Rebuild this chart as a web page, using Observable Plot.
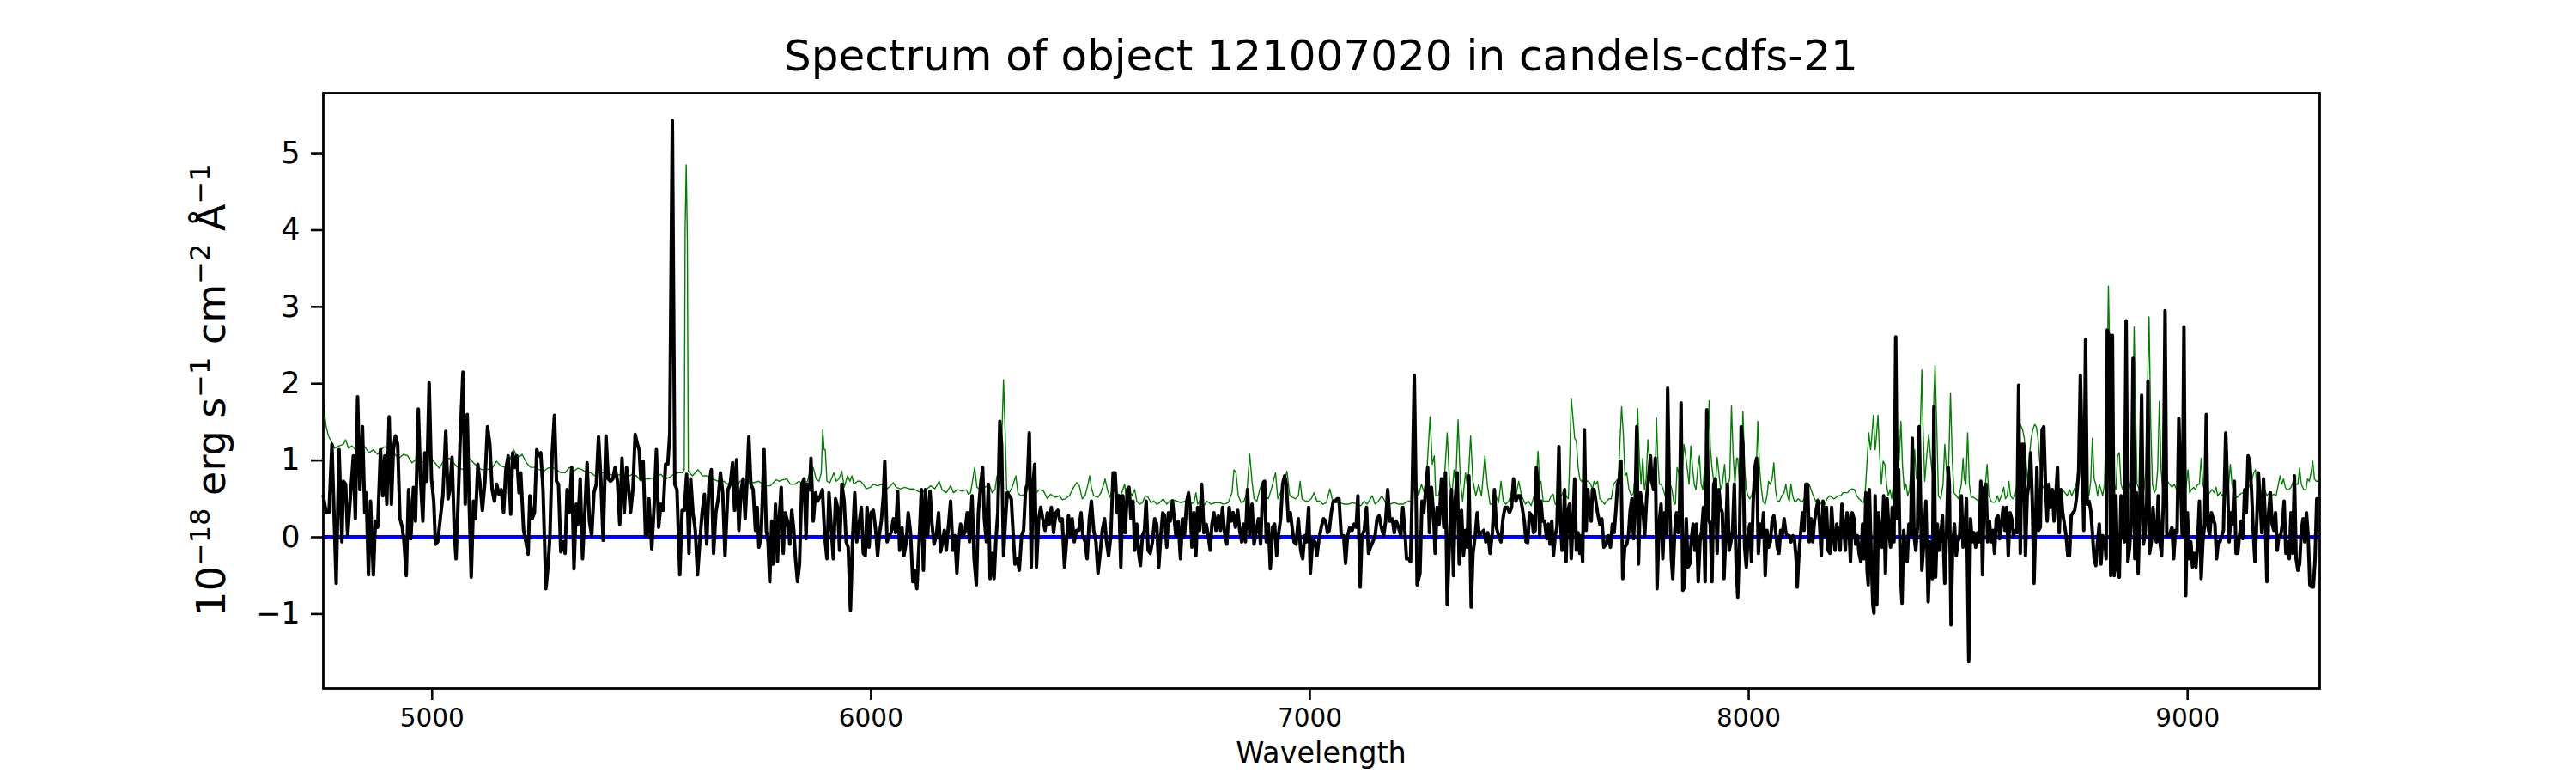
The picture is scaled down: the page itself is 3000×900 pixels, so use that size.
<!DOCTYPE html>
<html><head><meta charset="utf-8">
<script src="https://cdn.jsdelivr.net/npm/d3@7"></script>
<script src="https://cdn.jsdelivr.net/npm/@observablehq/plot@0.6"></script>
<style>body{margin:0;background:#fff} svg{display:block}</style>
</head><body><div id="chart"></div>
<script>
const titleText = "Spectrum of object 121007020 in candels-cdfs-21";
const xLabelText = "Wavelength";
const xTicks = [5000, 6000, 7000, 8000, 9000];
const yTicks = [-1, 0, 1, 2, 3, 4, 5];
const xDomain = [4752, 9301];
const yDomain = [-1.969, 5.784];
const zeroLevel = [0];

// observed flux (black): [wavelength, flux]
const spectrum = [
[4752,0.54],[4758.5,0.32],[4765,0.32],[4771.6,1.21],[4781.3,-0.60],[4787.9,1.14],[4794.4,-0.06],[4797.6,0.73],[4802.9,0.69],[4807.4,0.02],
[4813.9,0.54],[4820.5,1.06],[4825,0.24],[4830.2,1.83],[4835.5,0.62],[4841.3,1.44],[4846.5,0.32],[4849.8,0.58],[4855,-0.49],[4859.6,0.47],
[4866.1,-0.49],[4870.7,0.21],[4875.9,0.13],[4882.4,1.14],[4887.6,0.54],[4892.2,1.06],[4896.7,0.43],[4902,1.57],[4907.2,0.43],[4911.7,1.14],
[4916.3,1.32],[4921.5,1.21],[4926.7,0.24],[4932,0.13],[4935.9,-0.06],[4941.1,-0.50],[4946.3,0.62],[4951.5,-0.02],[4957.4,0.65],[4962,0.21],
[4968.5,1.67],[4973.7,0.73],[4978.9,0.21],[4983.5,1.10],[4988,0.73],[4993.2,2.01],[4998.5,0.76],[5003.7,0.47],[5007.6,-0.09],[5012.8,-0.06],
[5019.3,0.28],[5024.5,0.54],[5031.1,1.38],[5036.3,0.50],[5040.2,0.62],[5045.4,1.04],[5050.6,0.06],[5054.5,-0.28],[5058.4,0.32],[5063.7,1.23],
[5070.2,2.15],[5075.4,0.43],[5080,1.60],[5084.5,0.43],[5089.1,-0.52],[5094.3,0.47],[5098.9,0.24],[5104.1,0.95],[5109.3,0.69],[5114.5,0.35],
[5120.4,0.73],[5126.2,1.44],[5131.5,1.21],[5136.7,0.62],[5141.9,0.47],[5147.1,0.69],[5152.3,0.56],[5157.5,0.62],[5162.8,0.32],[5168,0.88],
[5173.2,1.06],[5179.1,0.30],[5183.6,1.10],[5188.8,0.91],[5192.8,1.06],[5198,0.58],[5201.9,0.84],[5208.4,0.09],[5213.6,-0.06],[5218.8,-0.22],
[5222.7,0.54],[5228,0.24],[5233.2,0.32],[5238.4,1.14],[5242.3,1.06],[5247.5,1.10],[5252.7,0.62],[5259.3,-0.67],[5264.5,-0.35],[5268.4,0.02],
[5273.6,1.10],[5278.8,1.59],[5283.4,0.73],[5288,0.69],[5293.2,-0.19],[5298.4,-0.06],[5303,-0.21],[5307.5,0.62],[5312.7,0.32],[5318,0.91],
[5323.2,-0.41],[5328.4,0.43],[5332.3,0.17],[5337.5,0.76],[5342.7,-0.28],[5348,0.32],[5353.1,0.97],[5358.4,0.21],[5363.6,0.02],[5368.8,0.58],
[5374,0.69],[5379.2,1.31],[5384.4,0.76],[5389.7,-0.04],[5396.2,1.32],[5401.4,0.76],[5406.6,0.73],[5411.8,0.76],[5417,0.91],[5422.3,0.73],
[5427.5,0.17],[5432.7,1.03],[5437.9,0.32],[5443.1,0.91],[5447,0.69],[5452.2,0.32],[5457.5,0.62],[5462.7,1.34],[5467.9,1.21],[5471.8,1.14],
[5475.7,0.76],[5480.9,0.99],[5486.2,0.02],[5490.1,0.02],[5494,0.50],[5500.5,-0.15],[5505.7,0.39],[5511,1.14],[5516.1,0.13],[5521.4,0.43],
[5526.6,0.35],[5531.8,0.95],[5537,0.95],[5541.5,1.35],[5547.4,5.43],[5553,0.69],[5557.9,0.62],[5564.4,-0.49],[5569.6,0.35],[5574.8,0.35],
[5580,0.82],[5585.3,-0.21],[5589.2,0.76],[5594.4,0.32],[5599.6,0.09],[5604.8,-0.49],[5610,-0.06],[5615.2,0.32],[5620.5,0.56],[5625.7,-0.09],
[5630.9,0.69],[5636.1,0.88],[5641.3,-0.21],[5646.5,0.32],[5651.8,0.50],[5657,0.84],[5662.2,0.58],[5667.4,-0.24],
[5674.1,0.62],[5679.4,0.69],[5684.6,0.97],[5689.1,0.35],[5693.7,1.01],[5698.9,0.09],[5704.1,0.62],[5708.7,0.76],[5713.3,0.24],[5717.2,0.69],
[5721.7,1.31],[5726.3,0.69],[5731.5,0.62],[5736.7,0.09],[5740.6,0.39],[5744.6,-0.13],[5749.8,0.02],[5756.3,1.14],[5761.5,0.09],[5765.4,-0.06],
[5769.3,-0.58],[5773.9,0.21],[5777.2,-0.35],[5782.4,0.43],[5786.9,-0.32],[5790.2,0.17],[5795.4,0.65],[5800,-0.21],[5804.5,0.32],[5809.8,0.21],
[5815,-0.09],[5819.5,0.35],[5824.1,0.09],[5828,-0.28],[5832.6,-0.58],[5837.1,-0.35],[5842.4,0.69],[5847.6,0.76],[5852.1,-0.02],[5855.4,0.69],
[5860.6,0.62],[5863.2,1.03],[5868.4,0.21],[5873.7,0.58],[5878.2,0.47],[5884.7,0.54],[5889.3,0.62],[5894.5,0.02],[5899.7,-0.28],[5904.3,0.58],
[5908.9,0.17],[5914.1,-0.28],[5919.3,0.50],[5923.9,0.39],[5928.4,-0.17],[5933.6,0.69],[5938.9,0.47],[5943.4,-0.06],[5948,-0.13],[5953.2,-0.95],
[5958.4,0.02],[5963,0.58],[5967.5,-0.06],[5972.8,0.17],[5978,0.39],[5982.5,-0.21],[5987.1,-0.24],[5991,0.39],[5995.6,-0.13],[6000.1,0.32],
[6005.4,0.35],[6010.6,0.09],[6015.1,-0.24],[6019.7,0.06],[6023.6,0.21],[6028.2,0.54],[6031.4,0.99],[6036.7,-0.06],[6041.2,0.02],[6045.8,0.06],
[6051,0.24],[6056.2,0.06],[6060.8,0.60],[6065.3,-0.17],[6070.6,0.13],[6075.1,-0.24],[6080.3,-0.06],[6084.9,0.32],[6090.1,0.06],[6095.3,-0.58],
[6099.9,-0.43],[6104.5,-0.67],[6109.7,-0.06],[6114.9,0.62],[6119.5,-0.43],[6124,0.62],[6129.2,0.02],[6134.5,0.60],[6139,0.17],[6143.6,-0.09],
[6148.8,0.02],[6154,0.32],[6158.6,-0.19],[6163.1,-0.06],[6167.1,0.09],[6171.6,-0.17],[6176.2,0.13],[6181.4,0.47],[6186.6,-0.17],[6191.2,0.02],
[6195.7,-0.47],[6199.7,-0.06],[6204.2,0.17],[6208.8,0.02],[6214,0.06],[6219.2,0.32],[6224.4,-0.06],[6230.3,0.54],[6234.9,-0.28],[6240.1,-0.62],
[6244.6,0.32],[6249.9,0.69],[6254.4,0.91],[6258.3,0.24],[6262.9,-0.06],[6267.5,0.69],[6271.4,-0.54],[6276,-0.21],[6280.5,-0.54],[6284.4,-0.06],
[6289,0.32],[6293.5,1.51],[6297.5,1.21],[6302,-0.24],[6306.6,0.24],[6310.5,0.58],[6315.1,0.54],[6319.6,0.50],[6323.5,0.09],[6328.1,-0.35],
[6332.7,-0.28],[6337.9,-0.43],[6343.1,0.02],[6347.7,0.09],[6352.2,0.62],[6356.1,0.69],[6360.7,1.36],[6365.3,-0.39],[6369.2,0.69],[6373.1,0.95],
[6377,-0.39],[6382.2,0.24],[6386.8,0.39],[6391.3,0.24],[6396.6,0.09],[6401.8,0.32],[6406.3,0.17],[6410.9,0.39],[6416.1,0.06],[6421.3,0.32],
[6425.9,0.35],[6430.5,0.21],[6435.7,0.24],[6440.9,-0.39],[6445.5,-0.06],[6450,0.28],[6453.9,0.02],[6458.5,0.24],[6463.1,-0.06],[6468.3,0.09],
[6473.5,0.09],[6478.7,0.32],[6482.6,0.02],[6487.8,-0.06],[6492.4,-0.28],[6497.6,0.24],[6502.2,0.47],[6507.4,0.09],[6512.6,-0.06],[6517.2,-0.47],
[6521.7,-0.24],[6527,0.09],[6532.2,0.24],[6536.7,-0.06],[6541.3,-0.24],[6546.5,0.02],[6551.7,0.84],[6556.3,0.84],[6560.9,0.32],[6564.8,0.54],
[6569.3,-0.39],[6573.9,0.54],
[6579.4,0.06],[6583.9,0.62],[6587.9,0.65],[6592.4,0.24],[6597,0.47],[6600.9,-0.17],[6605.5,0.17],[6610,-0.21],[6613.9,-0.37],[6618.5,0.02],
[6623.1,0.09],[6627,0.47],[6631.5,-0.17],[6636.1,-0.21],[6641.3,-0.06],[6646.5,0.24],[6651.1,0.17],[6655.7,-0.39],[6660.9,0.06],[6664.8,0.32],
[6668.7,0.28],[6673.9,-0.13],[6677.8,0.32],[6681.7,0.21],[6687,0.47],[6690.9,0.24],[6694.8,0.02],[6700,0.21],[6705.2,-0.28],[6709.8,0.24],
[6714.3,0.02],[6719.6,0.47],[6723.5,0.58],[6727.4,0.39],[6731.3,-0.13],[6735.9,0.32],[6740.4,-0.24],[6744.3,0.39],[6748.9,0.09],[6753.5,0.69],
[6758.7,0.06],[6763.9,0.17],[6768.5,0.02],[6773,-0.17],[6776.9,0.17],[6781.5,0.32],[6786.1,0.09],[6791.3,0.28],[6796.5,0.09],[6801.1,0.39],
[6805.6,0.06],[6810.8,-0.09],[6816.1,0.39],[6820.6,0.21],[6825.2,0.32],[6830.4,0.13],[6835.6,0.35],[6840.2,0.09],[6844.7,-0.06],[6848.7,0.17],
[6853.2,-0.06],[6857.8,0.62],[6863,0.02],[6868.2,0.43],[6872.8,-0.09],[6877.3,0.06],[6882.6,0.24],[6887.8,-0.09],[6893,0.69],[6896.9,0.73],
[6900.8,-0.06],[6905.4,0.17],[6909.9,-0.41],[6915.2,0.13],[6919.7,0.17],[6924.3,-0.24],[6928.2,0.02],[6933.4,0.24],[6938,0.69],[6942.5,0.80],
[6946.5,0.69],[6951,0.21],[6955.6,0.32],[6959.5,0.13],[6964.1,-0.06],[6968.6,-0.09],[6973.8,0.24],[6979.1,-0.17],[6983.6,-0.28],[6988.2,0.02],
[6992.1,-0.06],[6997.3,0.39],[7001.2,-0.47],[7006.4,-0.02],[7011.7,-0.06],[7016.2,-0.24],[7020.8,-0.02],[7026,0.13],[7031.2,0.24],[7035.8,0.21],
[7040.3,0.06],[7044.3,0.09],[7048.8,0.32],[7053.4,0.47],[7057.3,0.47],[7061.9,0.50],[7066.4,0.50],[7071.6,0.02],[7076.9,0.02],[7081.4,-0.34],
[7086,0.02],[7091.2,0.13],[7096.4,0.09],[7101,0.17],[7105.5,0.13],[7109.5,0.54],[7114.7,-0.65],[7118.6,0.02],[7123.8,0.09],[7129,0.39],
[7133.6,-0.21],[7138.1,-0.13],[7143.4,-0.06],[7148.6,0.02],[7153.1,0.24],[7157.7,0.28],[7162.9,0.13],[7168.1,0.02],[7172.7,0.21],[7177.3,0.62],
[7182.5,0.21],[7187.7,0.24],[7192.3,0.06],[7196.8,0.21],[7202,0.13],[7207.3,0.02],[7211.8,0.39],[7216.4,0.09],[7220.3,-0.28],[7224.9,-0.28],
[7229.4,-0.32],[7233.3,0.62],[7237.9,2.11],[7242.5,0.32],[7244.4,-0.62],[7250.9,-0.47],[7255.5,0.47],[7259.4,0.32],[7264,0.62],[7268.5,0.91],
[7272.5,0.06],[7277,0.65],[7281.6,0.32],[7285.5,-0.21],[7290.1,0.39],[7294.6,0.17],[7299.8,0.76],[7305.1,0.13],[7309,0.84],[7312.9,-0.88],
[7318.1,-0.06],[7322.7,0.62],[7327.2,-0.50],[7331.1,0.47],[7335.7,0.84],[7340.3,-0.35],[7345.5,0.35],[7350,-0.24],[7354.6,0.09],[7358.5,-0.13],
[7362.4,0.80],[7367.6,-0.91],[7371.6,-0.21],[7376.8,0.02],[7381.3,0.32],[7385.9,0.02],[7391.1,0.06],[7396.3,0.09],[7400.9,-0.06],[7405.5,0.06],
[7410.7,-0.21],[7415.9,0.06],[7420.5,0.62],[7425,0.13],[7430.2,0.02],[7435.5,-0.06],[7440,0.24],[7444.6,0.39],[7449.8,0.39],[7455,0.32],
[7459.6,0.39],[7464.1,0.76],[7469.4,0.47],[7474.6,0.54],[7479.1,0.54],[7483.7,0.39],
[7488.6,0.21],[7492.5,-0.06],[7496.5,-0.07],[7500.4,0.32],[7505.6,0.28],[7509.5,0.06],[7513.4,0.09],[7516,0.91],[7519.9,0.69],[7523.8,0.02],
[7526.4,0.47],[7530.4,0.21],[7534.9,0.21],[7539.5,-0.02],[7543.4,0.17],[7547.3,-0.09],[7551.2,0.21],[7555.1,-0.24],[7559,0.02],[7563,0.13],
[7567.5,1.18],[7570.8,0.24],[7574.7,-0.17],[7577.3,0.13],[7580.6,0.62],[7583.8,-0.32],[7587.1,0.32],[7591.6,0.43],[7595.6,-0.28],[7599.5,0.21],
[7603.4,0.76],[7607.3,-0.17],[7611.2,0.06],[7615.1,-0.21],[7617.7,0.02],[7621.6,-0.32],[7625.5,1.40],[7629.5,0.09],[7633.4,0.62],[7637.3,0.32],
[7641.2,0.21],[7643.8,0.62],[7647.7,0.62],[7651.6,0.47],[7655.5,0.32],[7660.8,0.17],[7665.3,0.24],[7669.9,-0.13],[7675.1,-0.09],[7680.3,0.02],
[7684.9,-0.13],[7689.4,0.17],[7693.4,0.06],[7697.3,0.35],[7701.2,0.69],[7705.1,0.76],[7709,0.99],[7712.9,-0.54],[7717.5,-0.13],[7722,-0.09],
[7726,0.02],[7729.9,0.35],[7733.8,0.50],[7737.7,-0.02],[7741.6,0.54],[7744.9,1.44],[7748.8,-0.35],[7753.3,0.58],[7758.6,0.39],[7763.1,0.02],
[7767.7,0.54],[7771.6,0.76],[7776.2,1.06],[7779.4,0.73],[7783.3,0.62],[7787.2,1.03],[7791.2,-0.67],[7795.7,0.17],[7800.3,0.43],[7804.2,-0.28],
[7808.1,0.32],[7812,0.02],[7815.3,1.94],[7819.8,0.47],[7823.8,-0.28],[7827,-0.54],[7831.6,0.09],[7835.5,0.32],[7839.4,0.06],[7842,0.21],
[7845.9,1.75],[7849.8,-0.69],[7853.7,-0.65],[7857.7,0.24],[7861.6,-0.39],[7865.5,-0.35],[7869.4,-0.02],[7873.3,0.17],[7877.2,-0.17],[7881.1,0.17],
[7885,-0.58],[7889,-0.06],[7892.9,0.09],[7896.8,0.39],[7900.7,-0.58],[7904.6,1.66],[7908.5,0.24],[7912.4,0.17],[7916.3,-0.58],[7920.3,0.69],
[7924.2,0.76],[7928.1,-0.21],[7932,0.62],[7935.9,0.39],[7939.8,0.32],[7943.7,-0.54],[7947.6,0.02],[7951.5,0.69],[7955.5,-0.17],[7959.4,-0.06],
[7963.3,0.09],[7967.2,0.69],[7971.1,-0.32],[7975,-0.78],[7978.9,-0.06],[7982.8,1.44],[7986.8,1.21],[7990.7,-0.13],[7994.6,-0.39],[7998.5,0.02],
[8002.4,0.17],[8006.3,-0.32],[8010.2,0.47],[8014.1,0.91],[8018.1,1.03],[8022,-0.21],[8025.9,0.17],[8029.8,0.02],[8033.7,0.32],[8037.6,-0.50],
[8041.5,0.09],[8045.4,-0.13],[8049.3,-0.06],[8053.3,0.21],[8057.2,0.28],[8061.1,0.09],[8065,-0.13],[8068.9,-0.21],[8072.8,0.09],[8076.7,0.02],
[8080.6,0.24],[8084.6,0.06],[8088.5,0.02],[8092.4,0.02],[8096.3,-0.06],[8100.2,0.02],[8104.1,-0.02],[8108,-0.28],[8110.6,-0.65],[8114.5,-0.21],
[8118.5,0.06],[8122.4,0.32],[8126.3,0.09],[8130.2,0.69],[8134.1,0.69],[8138,-0.06],[8141.9,0.24],[8145.8,-0.06],[8149.8,0.21],[8153.7,0.35],
[8157.6,0.47],[8161.5,0.17],[8165.4,-0.24],[8169.3,0.47],[8173.2,0.02],[8177.1,0.39],[8181.1,-0.17],[8185,-0.21],[8188.9,0.39],[8192.8,0.02],
[8196.7,-0.17],[8200.6,0.17],[8204.5,0.06],[8208.4,-0.17],[8212.3,0.43],[8216.3,0.17],[8220.2,-0.17],[8224.1,0.32],[8228,0.17],[8231.9,-0.32],
[8235.8,0.32],[8239.7,0.24],[8243.6,-0.09],[8247.6,0.02],[8251.5,-0.21],[8255.4,-0.32],[8259.3,0.17],[8263.2,-0.28],[8267.1,0.58],[8269.7,-0.43],
[8272.3,-0.62],[8274.9,0.62],[8278.9,-0.21],[8282.8,-0.88],[8285.4,-0.99],[8288,0.54],[8291.9,-0.88],[8295.8,0.32],[8299.7,0.02],[8303.6,-0.13],
[8307.5,0.54],[8311.5,-0.47],[8315.4,0.50],[8319.3,0.09],[8323.2,-0.13],[8327.1,0.39],[8331,-0.06],[8334.9,2.61],[8338.8,0.24],[8341.5,0.88],
[8345.4,-0.43],[8349.3,-0.86],[8353.2,0.09],[8357.1,-0.21],[8361,-0.32],[8364.9,0.17],[8368.8,0.02],[8372.7,1.29],[8376.7,0.02],[8380.6,-0.17],
[8384.5,0.13],[8388.4,1.44],
[8394.5,-0.43],[8399.1,-0.06],[8403.6,0.47],[8408.9,-0.84],[8414.1,-0.06],[8418.6,-0.54],[8421.9,1.70],[8425.8,-0.52],[8429.7,0.17],[8433.6,-0.17],
[8437.5,0.02],[8441.5,0.28],[8446.7,-0.60],[8450.6,0.02],[8454.5,0.91],[8457.1,0.69],[8461,-1.14],[8464.9,-0.06],[8468.8,0.17],[8472.8,-0.24],
[8476.7,-0.06],[8480.6,0.02],[8484.5,0.54],[8488.4,-0.13],[8492.3,0.06],[8496.2,0.50],[8501.4,-1.62],[8505.4,0.24],[8509.3,-0.06],[8513.2,0.06],
[8517.1,-0.13],[8521,0.06],[8524.9,-0.06],[8528.8,0.73],[8532.7,-0.49],[8536.7,0.65],[8540.6,0.69],[8544.5,-0.06],[8548.4,0.21],[8552.3,-0.06],
[8556.2,0.09],[8560.1,-0.21],[8564,0.24],[8568,0.28],[8571.9,-0.02],[8575.8,0.17],[8579.7,0.39],[8583.6,0.09],[8587.5,0.39],[8591.4,-0.24],
[8595.3,0.32],[8599.2,0.24],[8603.2,0.02],[8607.1,0.09],[8611,0.06],[8614.9,1.98],[8618.8,-0.21],[8622.7,1.21],[8626.6,1.21],[8630.5,-0.24],
[8634.5,0.54],[8638.4,0.69],[8642.3,1.10],[8646.2,0.47],[8650.1,-0.60],[8654,0.24],[8656.6,0.91],[8660.5,0.09],[8664.4,0.13],[8668.4,1.40],
[8672.3,1.44],[8676.2,0.69],[8680.1,0.21],[8684,0.69],[8687.9,0.39],[8691.8,0.62],[8695.7,0.21],[8699.7,0.54],[8703.6,0.91],[8707.5,0.06],
[8711.4,0.62],[8715.3,0.32],[8719.2,0.17],[8723.1,0.02],[8727,-0.24],[8731,-0.24],[8734.9,0.28],[8738.8,0.32],[8742.7,0.35],[8746.6,0.50],
[8751.8,0.84],[8755.7,2.11],[8759.6,1.14],[8763.5,0.09],[8767.5,2.57],[8771.4,0.43],[8775.3,0.47],[8779.2,0.35],[8783.1,0.06],[8787,-0.28],
[8790.9,-0.37],[8794.8,-0.06],[8798.8,0.17],[8802.7,-0.35],[8806.6,0.02],[8811.8,-0.06],[8814.4,-0.28],[8817,2.70],[8820.9,2.63],[8824.8,-0.50],
[8828.7,2.63],[8832.7,-0.50],[8836.6,0.54],[8840.5,-0.43],[8844.4,-0.52],[8848.3,0.54],[8852.2,0.06],[8856.1,-0.06],[8860,2.82],[8864,-0.32],
[8867.9,-0.13],[8871.8,0.21],[8875.7,2.33],[8879.6,-0.28],[8883.5,0.58],[8887.4,-0.47],[8891.3,0.39],[8895.3,1.85],[8899.2,-0.09],[8903.1,0.02],
[8907,0.47],[8909.6,2.03],[8913.5,-0.21],[8917.4,-0.06],[8921.3,0.39],[8925.2,0.02],[8929.2,-0.06],[8933.1,0.54],[8937,-0.06],[8940.9,-0.24],
[8944.8,0.47],[8948.7,2.95],[8952.6,0.02],[8956.5,0.02],[8960.5,0.06],[8964.4,0.13],[8968.3,-0.28],[8972.2,0.09],[8976.1,0.06],[8980,1.55],
[8983.9,0.76],[8987.8,0.02],[8991.7,2.74],[8995.7,-0.76],[8999.6,0.32],[9003.5,-0.28],[9007.4,-0.06],[9011.3,-0.39],[9015.2,-0.21],[9019.1,-0.39],
[9023,-0.06],[9027,0.47],[9030.9,-0.54],[9034.8,-0.06],[9038.7,0.17],[9042.6,1.60],[9046.5,0.13],[9050.4,0.02],[9054.3,0.32],[9058.3,0.24],
[9062.2,0.17],[9066.1,-0.28],[9070,-0.06],[9073.9,-0.06],[9077.8,0.02],[9081.7,0.09],[9086.9,1.36],[9090.9,0.69],[9094.8,-0.06],[9098.7,0.32],
[9102.6,0.17],[9106.5,0.73],[9110.4,-0.21],[9114.3,-0.21],[9118.2,0.02],[9122.2,0.21],[9126.1,-0.02],[9130,0.62],[9133.9,0.32],[9137.8,1.06],
[9141.7,0.99],[9145.6,0.62],[9149.5,0.09],[9153.5,-0.32],[9157.4,0.17],[9161.3,0.84],[9165.2,0.47],[9169.1,0.06],[9173,0.76],[9176.9,0.24],
[9180.8,-0.58],[9184.7,0.32],[9188.7,0.58],[9192.6,0.17],[9196.5,0.09],[9200.4,0.32],[9204.3,-0.17],[9208.2,0.02],[9212.1,0.02],[9216,0.17],
[9220,0.47],[9223.9,-0.21],[9227.8,-0.06],[9231.7,-0.28],[9235.6,0.32],[9239.5,-0.21],[9243.4,0.80],[9247.3,-0.28],[9251.3,-0.43],[9255.2,-0.35],
[9259.1,0.09],[9263,0.24],[9266.9,-0.06],[9270.8,0.32],[9274.7,0.02],[9278.6,-0.62],[9282.6,-0.65],[9286.5,-0.65],[9290.4,-0.28],[9294.3,0.50],
[9298.2,0.50]
];

// noise / sky spectrum (green): [wavelength, value]
const noise = [
[4752,1.75],[4758.5,1.44],[4763.7,1.32],[4771.6,1.23],[4778.1,1.16],[4787.9,1.19],[4797.6,1.21],[4802.9,1.27],[4809.4,1.16],[4817.2,1.19],
[4825,1.14],[4833.5,1.18],[4846.5,1.18],[4856.3,1.10],[4866.1,1.14],[4875.9,1.08],[4882.4,1.14],[4892.2,1.18],[4902,1.14],[4911.7,1.10],
[4918.3,1.06],[4924.8,1.03],[4934.6,1.08],[4944.3,1.06],[4954.1,0.97],[4967.2,1.03],[4976.9,0.99],[4986.7,0.95],[4996.5,1.03],[5006.3,0.97],
[5016.1,0.90],[5025.8,0.99],[5038.9,1.03],[5048.7,0.97],[5058.4,0.91],[5071.5,0.88],[5084.5,1.03],[5094.3,0.97],[5104.1,0.91],[5113.9,0.88],
[5123.6,0.88],[5136.7,0.90],[5146.5,0.99],[5156.2,0.93],[5166,0.91],[5175.8,0.99],[5185.6,1.14],[5195.4,1.03],[5205.1,1.08],[5214.9,0.97],
[5224.7,0.91],[5234.5,0.91],[5244.3,0.88],[5254,0.86],[5263.8,0.90],[5273.6,0.91],[5283.4,0.88],[5293.2,0.84],[5302.9,0.84],[5312.7,0.91],
[5322.5,0.86],[5332.3,0.90],[5342.1,0.88],[5351.8,0.84],[5361.6,0.84],[5371.4,0.80],[5381.2,0.84],[5391,0.84],[5404,0.82],[5417,0.80],
[5430.1,0.82],[5443.1,0.78],[5456.2,0.82],[5465.9,0.80],[5475.7,0.73],[5485.5,0.76],[5495.3,0.76],[5508.3,0.78],[5521.4,0.82],[5531.1,0.76],
[5540.9,0.78],[5550.7,0.82],[5560.5,0.84],[5570.3,0.84],[5574.5,0.88],[5576.5,4.0],[5579,4.85],[5581.5,3.9],[5583.8,0.86],[5593.1,0.80],
[5606.1,0.88],[5615.9,0.80],[5625.7,0.80],[5638.5,0.76],[5651.8,0.73],[5664.8,0.73],
[5672.8,0.69],[5682.6,0.73],[5692.4,0.65],[5702.2,0.73],[5708.7,0.76],[5718.5,0.73],[5731.5,0.71],[5744.6,0.73],[5757.6,0.67],[5770.6,0.67],
[5783.7,0.75],[5790.2,0.73],[5800,0.75],[5808.5,0.76],[5816.3,0.69],[5826.1,0.69],[5835.8,0.73],[5845.6,0.69],[5855.4,0.73],[5861.9,0.88],
[5868.4,0.91],[5875,0.76],[5881.5,0.73],[5886.7,0.84],[5890,1.40],[5893.2,1.14],[5895.8,1.14],[5899.7,0.73],[5906.3,0.71],[5915.4,0.84],
[5920.6,0.73],[5927.1,0.76],[5933.6,0.86],[5938.9,0.65],[5946.7,0.80],[5951.9,0.73],[5956.5,0.80],[5961,0.69],[5969.5,0.73],[5976,0.73],
[5982.5,0.69],[5989.1,0.63],[5998.8,0.65],[6005.4,0.69],[6015.1,0.67],[6024.9,0.69],[6034.7,0.62],[6044.5,0.67],[6051,0.71],[6057.5,0.65],
[6067.3,0.63],[6077.1,0.65],[6086.9,0.63],[6096.6,0.63],[6106.4,0.60],[6116.2,0.58],[6126,0.62],[6135.8,0.67],[6145.5,0.63],[6155.3,0.73],
[6161.8,0.62],[6171.6,0.58],[6181.4,0.67],[6187.9,0.58],[6197.7,0.62],[6207.5,0.60],[6217.3,0.62],[6221.8,0.56],[6227,0.58],[6236.2,0.91],
[6241.4,0.65],[6249.9,0.62],[6259.6,0.65],[6269.4,0.69],[6276,0.58],[6282.5,0.62],[6287,0.80],[6291,0.58],[6295.5,0.76],[6298.8,1.44],
[6302,2.05],[6305.3,1.44],[6309.2,0.62],[6315.1,0.58],[6321.6,0.65],[6326.1,0.73],[6330.1,0.80],[6334.6,0.58],[6341.1,0.54],[6350.9,0.56],
[6357.4,0.62],[6364,0.69],[6370.5,0.63],[6377,0.58],[6383.5,0.62],[6393.3,0.60],[6401.8,0.50],[6409.6,0.56],[6419.4,0.52],[6429.2,0.54],
[6435.7,0.49],[6442.2,0.50],[6452,0.54],[6461.8,0.65],[6468.3,0.71],[6474.8,0.67],[6481.3,0.50],[6487.8,0.54],[6494.4,0.69],[6498.3,0.80],
[6502.2,0.65],[6507.4,0.54],[6517.2,0.52],[6523.7,0.58],[6530.2,0.69],[6533.5,0.76],[6538.7,0.62],[6543.9,0.52],[6549.8,0.62],[6556.3,0.60],
[6562.8,0.56],[6569.3,0.54],[6577.8,0.69],
[6581.3,0.54],[6587.9,0.63],[6594.4,0.54],[6600.9,0.62],[6605.5,0.47],[6612,0.43],[6618.5,0.45],[6625,0.54],[6631.5,0.52],[6638.1,0.45],
[6644.6,0.47],[6651.1,0.43],[6657.6,0.45],[6666.1,0.50],[6673.9,0.43],[6680.4,0.47],[6687,0.49],[6696.7,0.47],[6706.5,0.45],[6716.3,0.47],
[6726.1,0.43],[6735.9,0.45],[6740.4,0.58],[6744.3,0.43],[6752.2,0.50],[6758.7,0.41],[6765.2,0.47],[6775,0.43],[6784.8,0.45],[6794.5,0.45],
[6804.3,0.43],[6814.1,0.45],[6822.6,0.58],[6827.1,0.88],[6831.7,0.84],[6836.9,0.54],[6843.4,0.45],[6850,0.47],[6856.5,0.58],[6863,1.08],
[6868.2,0.73],[6872.8,0.50],[6879.3,0.47],[6885.8,0.62],[6892.3,0.73],[6898.9,0.54],[6905.4,0.50],[6911.9,0.62],[6921.7,0.84],[6926.9,0.50],
[6933.4,0.58],[6939.9,0.69],[6947.8,0.86],[6954.3,0.54],[6960.8,0.52],[6967.3,0.50],[6973.8,0.54],[6977.8,0.73],[6982.3,0.50],[6990.1,0.47],
[6996.7,0.47],[7003.2,0.50],[7009.7,0.58],[7016.2,0.47],[7022.7,0.47],[7029.3,0.43],[7037.7,0.45],[7045.6,0.63],[7050.8,0.50],[7058.6,0.45],
[7068.4,0.45],[7078.2,0.43],[7088,0.43],[7097.7,0.45],[7107.5,0.43],[7116,0.41],[7123.8,0.47],[7130.3,0.43],[7136.8,0.49],[7142.1,0.54],
[7148.6,0.43],[7156.4,0.47],[7164.2,0.54],[7172.7,0.45],[7182.5,0.43],[7192.3,0.45],[7202,0.43],[7211.8,0.43],[7218.3,0.45],[7224.9,0.47],
[7231.4,0.47],[7236,0.62],[7241.2,0.73],[7247.7,0.54],[7254.2,0.69],[7260.7,0.58],[7267.2,0.91],[7273.8,1.57],[7279,0.95],[7283.5,1.06],
[7286.8,0.54],[7293.3,0.54],[7299.8,0.76],[7305.1,0.62],[7312.9,1.36],[7318.1,0.73],[7323.3,0.54],[7328.5,0.88],[7332.4,0.69],[7337.7,1.53],
[7342.9,0.73],[7348.1,0.47],[7354.6,0.84],[7359.8,0.62],[7366.3,1.32],[7371.6,0.73],[7378.1,0.54],[7384.6,0.69],[7391.1,0.54],[7398.9,1.06],
[7404.2,0.69],[7410.7,0.43],[7417.2,0.43],[7423.7,0.54],[7430.2,0.45],[7435.5,0.73],[7440.7,0.47],[7446.5,0.43],[7453,0.47],[7457.6,0.54],
[7464.1,0.69],[7469.4,0.54],[7475.9,0.73],[7482.4,0.54],
[7491.2,0.43],[7497.8,0.47],[7504.3,0.41],[7510.8,0.54],[7515.4,0.69],[7519.9,1.12],[7523.8,0.69],[7526.4,0.73],[7531.7,0.47],[7538.2,0.47],
[7544.7,0.47],[7549.9,0.54],[7554.5,0.56],[7559,0.43],[7564.3,0.43],[7569.5,0.54],[7574,0.54],[7578.6,0.62],[7583.8,0.54],[7589,0.50],
[7591.6,0.91],[7595.6,1.81],[7599.5,1.55],[7603.4,1.29],[7607.3,1.25],[7611.2,0.91],[7615.1,0.76],[7619,0.73],[7624.2,0.76],[7629.5,0.73],
[7634.7,0.73],[7639.9,0.69],[7643.8,0.62],[7647.7,0.73],[7651.6,0.69],[7655.5,0.73],[7660.8,0.50],[7666,0.47],[7671.2,0.43],[7676.4,0.47],
[7681.6,0.50],[7686.8,0.50],[7692.1,0.69],[7697.3,0.73],[7702.5,0.76],[7706.4,1.21],[7710.3,1.70],[7714.2,1.36],[7718.1,0.80],[7722,0.84],
[7727.3,0.62],[7732.5,0.54],[7737.7,0.58],[7742.9,0.91],[7746.8,1.68],[7750.7,1.06],[7754.6,0.69],[7758.6,1.03],[7762.5,0.62],[7766.4,0.76],
[7770.3,1.27],[7774.2,0.99],[7778.1,0.69],[7783.3,0.62],[7787.2,0.91],[7789.9,1.55],[7792.5,1.06],[7796.4,0.69],[7800.3,0.69],[7805.5,0.62],
[7809.4,0.54],[7813.3,0.54],[7817.2,0.69],[7821.1,0.69],[7825.1,0.62],[7829,0.47],[7832.9,0.43],[7836.8,0.91],[7840.7,0.84],[7844.6,0.62],
[7848.5,0.84],[7852.4,1.21],[7856.4,1.06],[7860.3,0.88],[7864.2,0.69],[7868.1,1.19],[7872,0.91],[7875.9,0.69],[7879.8,0.62],[7883.7,0.88],
[7887.7,1.06],[7891.6,0.69],[7895.5,0.62],[7899.4,0.91],[7903.3,0.73],[7907.2,1.23],[7909.8,1.78],[7912.4,1.18],[7916.3,0.91],[7920.3,0.73],
[7924.2,0.69],[7928.1,1.04],[7932,0.84],[7935.9,0.62],[7939.8,0.69],[7945,0.95],[7949,0.62],[7952.9,0.69],[7956.8,0.76],[7960.7,1.71],
[7964.6,1.06],[7968.5,0.69],[7972.4,1.03],[7975,1.03],[7978.9,0.69],[7982.8,0.62],[7986.8,1.64],[7990.7,0.91],[7994.6,0.62],[7998.5,0.54],
[8002.4,0.50],[8006.3,0.54],[8010.2,0.62],[8014.1,0.58],[8018.1,1.03],[8020.7,1.51],[8024.6,0.91],[8028.5,0.65],[8032.4,0.47],[8037.6,0.43],
[8041.5,0.54],[8045.4,0.73],[8049.3,0.69],[8053.3,0.76],[8057.2,0.97],[8061.1,0.62],[8065,0.47],[8070.2,0.47],[8075.4,0.54],[8080.6,0.58],
[8084.6,0.69],[8088.5,0.54],[8092.4,0.47],[8096.3,0.69],[8100.2,0.54],[8104.1,0.47],[8108,0.47],[8113.2,0.50],[8118.5,0.47],[8123.7,0.47],
[8128.9,0.54],[8134.1,0.62],[8138,0.69],[8141.9,0.62],[8147.1,0.54],[8152.4,0.47],[8157.6,0.50],[8162.8,0.43],[8168,0.47],[8173.2,0.43],
[8178.4,0.50],[8183.7,0.54],[8188.9,0.52],[8194.1,0.50],[8199.3,0.52],[8204.5,0.54],[8209.7,0.54],[8215,0.58],[8220.2,0.58],[8225.4,0.58],
[8230.6,0.62],[8235.8,0.63],[8241.1,0.62],[8246.3,0.54],[8251.5,0.50],[8256.7,0.47],[8261.9,0.45],[8265.8,0.62],[8269.7,0.99],[8273.6,1.36],
[8277.5,1.14],[8280.2,1.29],[8284.1,1.59],[8288,1.14],[8290.6,1.29],[8294.5,1.59],[8298.4,1.06],[8302.3,0.69],[8306.2,0.99],[8310.1,0.95],
[8314.1,0.69],[8318,0.54],[8321.9,0.62],[8325.8,0.50],[8329.7,0.69],[8333.6,0.91],[8338.8,0.99],[8342.7,0.99],[8346.7,1.51],[8350.6,0.91],
[8354.5,0.62],[8358.4,0.69],[8362.3,0.54],[8366.2,0.62],[8370.1,0.91],[8374,0.69],[8378,1.14],[8381.9,0.76],[8385.8,0.91],[8389.7,1.14],
[8394.5,2.18],[8397.1,1.44],[8401,0.73],[8405.6,1.06],[8410.2,1.34],[8414.1,1.06],[8418,0.84],[8421.9,1.81],[8424.5,2.24],[8428.4,1.44],
[8432.3,0.54],[8437.5,0.50],[8442.8,0.69],[8446.7,1.21],[8450.6,0.88],[8454.5,0.69],[8459.7,1.88],[8463.6,1.06],[8467.5,0.58],[8472.8,0.54],
[8478,0.50],[8484.5,0.69],[8488.4,1.03],[8491,0.76],[8494.9,0.69],[8498.8,1.36],[8502.7,0.69],[8506.7,0.52],[8511.9,0.52],[8517.1,0.50],
[8523.6,0.47],[8530.1,0.50],[8535.3,0.62],[8539.3,0.69],[8543.2,0.95],[8547.1,0.54],[8552.3,0.47],[8557.5,0.45],[8562.7,0.47],[8566.6,0.54],
[8570.6,0.47],[8575.8,0.54],[8581,0.65],[8584.9,0.50],[8588.8,0.54],[8592.7,0.73],[8596.6,0.54],[8601.9,0.50],[8607.1,0.54],[8611,0.69],
[8614.9,0.99],[8618.8,1.47],[8624,1.40],[8627.9,1.29],[8631.8,0.99],[8635.8,0.69],[8639.7,1.06],[8643.6,1.29],[8647.5,1.40],[8651.4,1.47],
[8655.3,1.44],[8659.2,1.29],[8663.1,0.99],[8668.4,0.69],[8673.6,0.62],[8678.8,0.69],[8684,0.62],[8689.2,0.62],[8695.7,0.58],[8701,0.62],
[8706.2,0.54],[8711.4,0.52],[8715.3,0.62],[8720.5,0.58],[8725.7,0.54],[8731,0.62],[8736.2,0.54],[8741.4,0.62],[8746.6,0.69],[8751.8,0.99],
[8755.7,1.59],[8758.3,1.21],[8760.9,0.76],[8764.9,0.69],[8770.1,0.54],[8775.3,0.54],[8779.2,0.73],[8783.1,1.29],[8787,0.76],[8790.9,0.69],
[8794.8,0.54],[8798.8,0.69],[8802.7,0.62],[8806.6,0.54],[8810.5,0.69],[8814.4,1.44],[8817,2.18],[8819.6,3.27],[8822.2,2.48],[8824.8,1.44],
[8828.7,0.76],[8832.7,0.69],[8836.6,0.62],[8840.5,1.06],[8844.4,1.10],[8848.3,0.69],[8852.2,0.62],[8856.1,0.62],[8861.4,0.69],[8866.6,0.62],
[8871.8,0.76],[8875.7,1.81],[8878.3,2.74],[8880.9,1.81],[8884.8,0.69],[8890,0.62],[8895.3,0.69],[8900.5,0.62],[8904.4,0.84],[8908.3,1.81],
[8912.2,2.87],[8916.1,1.44],[8920,0.69],[8924,0.58],[8927.9,0.62],[8931.8,0.88],[8935.7,1.77],[8939.6,0.88],[8943.5,0.62],[8948.7,0.69],
[8953.9,0.73],[8959.1,0.69],[8964.4,0.65],[8969.6,0.69],[8974.8,0.62],[8980,0.73],[8985.2,0.62],[8990.4,0.58],[8995.7,0.62],[9000.9,0.88],
[9004.8,0.58],[9008.7,0.62],[9013.9,0.65],[9017.8,0.62],[9023,0.69],[9027,0.69],[9030.9,1.03],[9034.8,0.69],[9040,0.58],[9045.2,0.54],
[9050.4,0.58],[9055.6,0.62],[9060.9,0.58],[9064.8,0.65],[9068.7,0.54],[9073.9,0.58],[9079.1,0.54],[9084.3,0.58],[9089.5,0.62],[9093.5,0.69],
[9097.4,0.95],[9101.3,0.69],[9106.5,0.54],[9113,0.52],[9119.5,0.56],[9126.1,0.58],[9132.6,0.62],[9139.1,0.65],[9145.6,0.73],[9150.8,0.84],
[9154.7,0.88],[9158.7,0.62],[9163.9,0.54],[9169.1,0.54],[9175.6,0.62],[9180.8,0.54],[9186.1,0.58],[9191.3,0.54],[9196.5,0.56],[9201.7,0.54],
[9206.9,0.69],[9210.8,0.80],[9214.7,0.69],[9218.6,0.76],[9222.6,0.65],[9226.5,0.62],[9230.4,0.62],[9235.6,0.65],[9240.8,0.73],[9246,0.69],
[9251.3,0.69],[9255.2,0.90],[9259.1,0.69],[9264.3,0.62],[9269.5,0.62],[9273.4,0.76],[9277.3,0.73],[9281.2,0.84],[9285.1,0.99],[9289.1,0.76],
[9293,0.73],[9296.9,0.73]
];

const flux = spectrum.map(([w, f]) => ({w, f}));
const sky = noise.map(([w, e]) => ({w, e}));

const fontFamily = "'DejaVu Sans', sans-serif";

const chart = Plot.plot({
  width: 3000,
  height: 900,
  marginLeft: 376,
  marginRight: 299,
  marginTop: 108,
  marginBottom: 99,
  style: {fontFamily, background: "white", color: "black", overflow: "visible"},
  x: {domain: xDomain},
  y: {domain: yDomain},
  marks: [
    Plot.line(sky, {x: "w", y: "e", stroke: "#008000", strokeWidth: 1.4, strokeLinejoin: "round"}),
    Plot.ruleY(zeroLevel, {stroke: "#0000ff", strokeWidth: 5}),
    Plot.line(flux, {x: "w", y: "f", stroke: "black", strokeWidth: 4, strokeLinejoin: "round"}),
    Plot.frame({stroke: "black", strokeWidth: 2.8}),
    Plot.axisX({ticks: xTicks, tickSize: 14, tickPadding: 10, strokeWidth: 2.6, fontSize: 29.5,
      tickFormat: d => String(d), label: null}),
    Plot.axisY({ticks: yTicks, tickSize: 14, tickPadding: 13, strokeWidth: 2.6, fontSize: 35,
      tickFormat: d => (d < 0 ? "\u2212" + Math.abs(d) : String(d)), label: null})
  ]
});

document.getElementById("chart").appendChild(chart);

// Title and axis labels as real SVG text
const svg = d3.select(chart);
svg.append("text")
  .attr("x", 1538.5).attr("y", 82)
  .attr("text-anchor", "middle")
  .attr("font-family", fontFamily)
  .attr("font-size", 50)
  .attr("fill", "black")
  .text(titleText);

svg.append("text")
  .attr("x", 1538.5).attr("y", 888)
  .attr("text-anchor", "middle")
  .attr("font-family", fontFamily)
  .attr("font-size", 33.5)
  .attr("fill", "black")
  .text(xLabelText);

const yLabelParts = [
  ["10", false], ["\u221218", true], [" erg s", false], ["\u22121", true],
  [" cm", false], ["\u22122", true], [" \u00c5", false], ["\u22121", true]
];
const ylab = svg.append("text")
  .attr("transform", "translate(262,454) rotate(-90)")
  .attr("text-anchor", "middle")
  .attr("font-family", fontFamily)
  .attr("font-size", 46)
  .attr("fill", "black");
let raised = false;
for (const [t, sup] of yLabelParts) {
  const ts = ylab.append("tspan").text(t);
  if (sup && !raised) { ts.attr("dy", -18).attr("font-size", 32); raised = true; }
  else if (sup) { ts.attr("font-size", 32); }
  else if (!sup && raised) { ts.attr("dy", 18); raised = false; }
}
</script>
</body></html>
